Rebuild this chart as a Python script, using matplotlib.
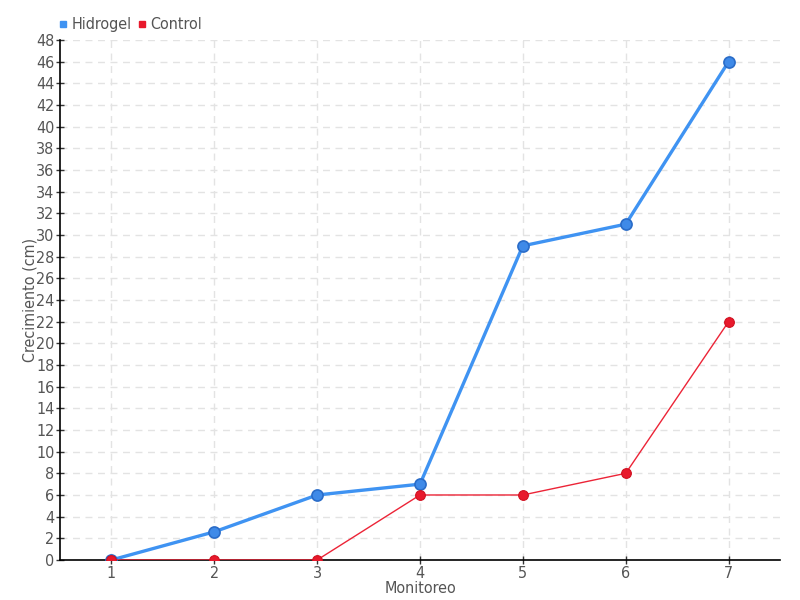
import matplotlib
matplotlib.use('Agg')
import matplotlib.pyplot as plt
from matplotlib.lines import Line2D

plt.rcParams['font.family'] = ['DejaVu Sans']
plt.rcParams['font.stretch'] = 'condensed'

monitoreo = [1, 2, 3, 4, 5, 6, 7]
hidrogel = [0, 2.6, 6, 7, 29, 31, 46]
control = [0, 0, 0, 6, 6, 8, 22]
y_ticks = list(range(0, 50, 2))

fig = plt.figure(figsize=(8, 6), dpi=100)
ax = fig.add_axes([0.075, 0.0667, 0.9, 0.8666])

ax.plot(monitoreo, hidrogel, color='#3f93f2', lw=2.4, marker='o', ms=8,
        mfc='#3f8ae8', mec='#2a6cc8', mew=1.2, zorder=3)
ax.plot(monitoreo, control, color='#ec2437', lw=1, marker='o', ms=7,
        mfc='#e8192c', mec='#d01020', mew=0.8, zorder=4)

ax.set_xlim(0.5, 7.5)
ax.set_ylim(0, 48)
ax.set_xticks(monitoreo)
ax.set_yticks(y_ticks)
ax.grid(True, color='#e3e3e3', ls=(0, (5, 4)), lw=1)
ax.set_axisbelow(True)

for s in ['top', 'right']:
    ax.spines[s].set_visible(False)
for s in ['left', 'bottom']:
    ax.spines[s].set_color('black')
    ax.spines[s].set_linewidth(1.2)

ax.tick_params(axis='both', direction='inout', length=6, width=1,
               labelsize=11.5, labelcolor='#555555', color='#333333', pad=1)

ax.set_xlabel('Monitoreo', fontsize=11.5, color='#555555', labelpad=0)
ax.set_ylabel('Crecimiento (cm)', fontsize=11.5, color='#555555', labelpad=-1)

handles = [Line2D([], [], ls='none', marker='s', ms=5, color='#3f93f2'),
           Line2D([], [], ls='none', marker='s', ms=5, color='#e8192c')]
fig.legend(handles, ['Hidrogel', 'Control'], loc='upper left',
           bbox_to_anchor=(0.053, 0.995), ncol=2, frameon=False,
           fontsize=11.5, labelcolor='#555555', handletextpad=0.1,
           columnspacing=0.3, handlelength=0.8)

fig.savefig('out.png', dpi=100)
